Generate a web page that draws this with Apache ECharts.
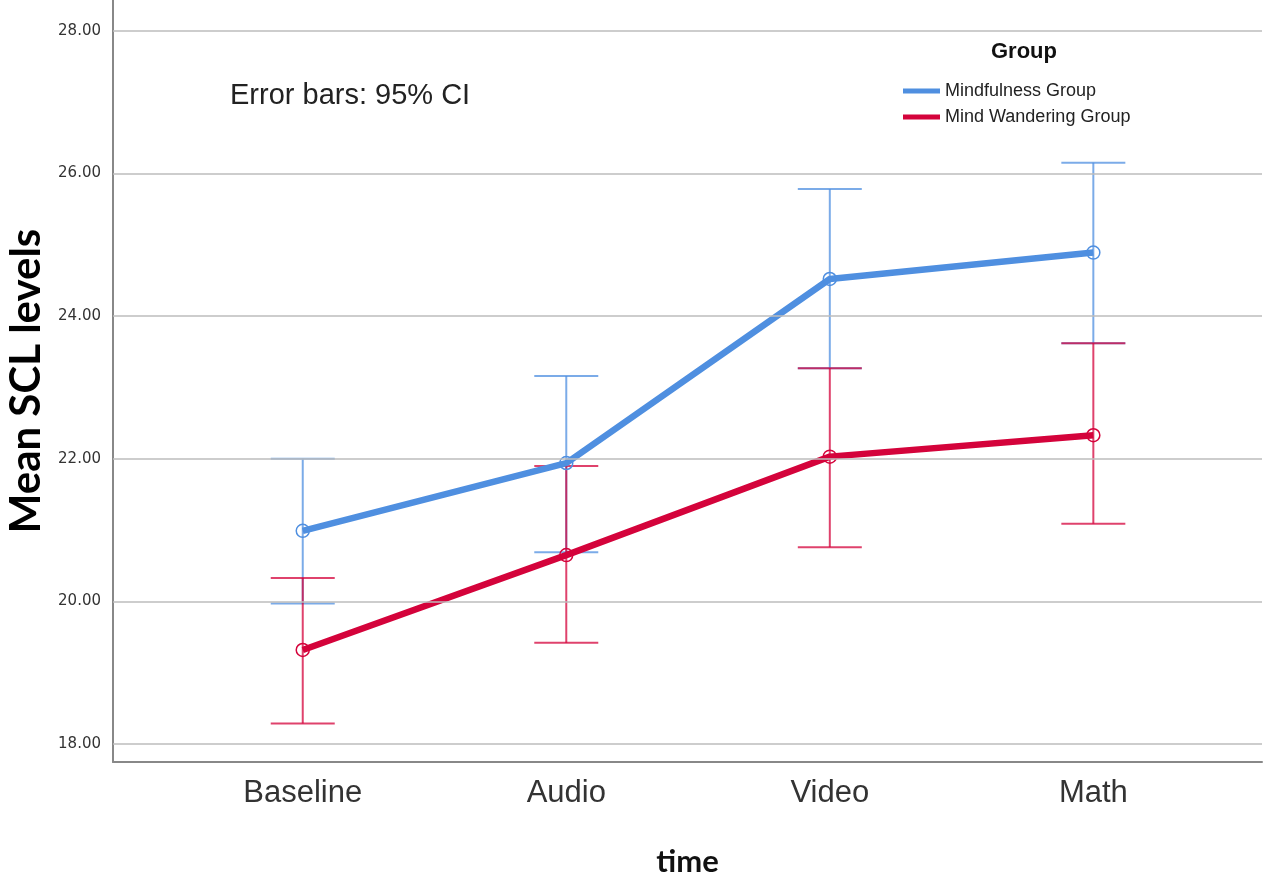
<!DOCTYPE html>
<html>
<head>
<meta charset="utf-8">
<script src="https://cdn.jsdelivr.net/npm/echarts@6/dist/echarts.min.js"></script>
<style>
  html, body { margin: 0; padding: 0; background: #fff; }
  #chart { width: 1264px; height: 882px; }
</style>
</head>
<body>
<div id="chart"></div>
<script>
const categories = ['Baseline', 'Audio', 'Video', 'Math'];
const yTicks = [18, 20, 22, 24, 26, 28];

const mindMean = [20.99, 21.94, 24.52, 24.89];
const mindLow = [19.97, 20.69, 23.27, 23.62];
const mindHigh = [22.00, 23.16, 25.78, 26.15];

const wanderMean = [19.32, 20.65, 22.03, 22.33];
const wanderLow = [18.29, 19.42, 20.76, 21.09];
const wanderHigh = [20.33, 21.90, 23.27, 23.62];

const BLUE = '#4f8fe0';
const RED = '#d4033b';

const myChart = echarts.init(document.getElementById('chart'));

const errorBars = (name, low, high, color) => ({
  name,
  type: 'custom',
  z: 2,
  silent: true,
  itemStyle: { color },
  data: categories.map((c, i) => [i, low[i], high[i]]),
  renderItem(params, api) {
    const x = api.value(0);
    const top = api.coord([x, api.value(2)]);
    const bot = api.coord([x, api.value(1)]);
    const hw = 32;
    const style = { stroke: color, lineWidth: 2, opacity: 0.75 };
    return {
      type: 'group',
      children: [
        { type: 'line', shape: { x1: top[0], y1: top[1], x2: bot[0], y2: bot[1] }, style },
        { type: 'line', shape: { x1: top[0] - hw, y1: top[1], x2: top[0] + hw, y2: top[1] }, style },
        { type: 'line', shape: { x1: bot[0] - hw, y1: bot[1], x2: bot[0] + hw, y2: bot[1] }, style }
      ]
    };
  }
});

const meanLine = (name, values, color) => ({
  name,
  type: 'line',
  z: 3,
  data: values.map((v, i) => [i, v]),
  symbol: 'circle',
  symbolSize: 13,
  itemStyle: { color: 'transparent', borderColor: color, borderWidth: 1.5 },
  lineStyle: { color, width: 6.5 },
  emphasis: { disabled: true }
});

myChart.setOption({
  animation: false,
  backgroundColor: '#fff',
  grid: { left: 113, right: 2, top: 0, bottom: 120, containLabel: false, outerBoundsMode: 'none' },
  legend: {
    orient: 'vertical',
    left: 903,
    top: 82,
    padding: 0,
    icon: 'rect',
    itemWidth: 37,
    itemHeight: 5,
    itemGap: 8,
    data: [
      { name: 'Mindfulness Group', itemStyle: { color: BLUE, borderWidth: 0 } },
      { name: 'Mind Wandering Group', itemStyle: { color: RED, borderWidth: 0 } }
    ],
    textStyle: { fontFamily: 'Liberation Sans', fontSize: 18, color: '#222' }
  },
  graphic: [
    {
      type: 'text', left: 991, top: 41,
      style: { text: 'Group', font: 'bold 22px "Liberation Sans"', fill: '#111' }
    },
    {
      type: 'text', left: 230, top: 81,
      style: { text: 'Error bars: 95% CI', font: '29px "Liberation Sans"', fill: '#222' }
    }
  ],
  xAxis: {
    type: 'value',
    min: -0.72,
    max: 3.64,
    name: 'time',
    nameLocation: 'middle',
    nameGap: 84,
    nameTextStyle: { fontFamily: 'Lato', fontWeight: 'bold', fontSize: 31, color: '#111' },
    axisLine: { show: true, onZero: false, lineStyle: { color: '#888', width: 2 } },
    axisTick: { show: false },
    splitLine: { show: false },
    axisLabel: {
      customValues: [0, 1, 2, 3],
      formatter: v => categories[Math.round(v)],
      margin: 16,
      fontFamily: 'Liberation Sans',
      fontSize: 31,
      color: '#333'
    }
  },
  yAxis: {
    type: 'value',
    min: 17.75,
    max: 28.43,
    name: 'Mean SCL levels',
    nameLocation: 'middle',
    nameRotate: 90,
    nameGap: 66,
    nameTextStyle: { fontFamily: 'Lato', fontWeight: 'bold', fontSize: 42, color: '#000' },
    axisLine: { show: true, onZero: false, lineStyle: { color: '#888', width: 2 } },
    axisTick: { show: false },
    splitLine: { show: false },
    axisLabel: {
      customValues: yTicks,
      formatter: v => v.toFixed(2),
      margin: 12,
      fontFamily: 'DejaVu Sans',
      fontSize: 15,
      color: '#333'
    }
  },
  series: [
    {
      type: 'line',
      data: [],
      silent: true,
      markLine: {
        silent: true,
        symbol: 'none',
        label: { show: false },
        lineStyle: { color: '#bdbdbd', width: 1.5, type: 'solid' },
        data: yTicks.map(t => ({ yAxis: t }))
      }
    },
    errorBars('Mindfulness CI', mindLow, mindHigh, BLUE),
    errorBars('Mind Wandering CI', wanderLow, wanderHigh, RED),
    meanLine('Mindfulness Group', mindMean, BLUE),
    meanLine('Mind Wandering Group', wanderMean, RED)
  ]
});
</script>
</body>
</html>
